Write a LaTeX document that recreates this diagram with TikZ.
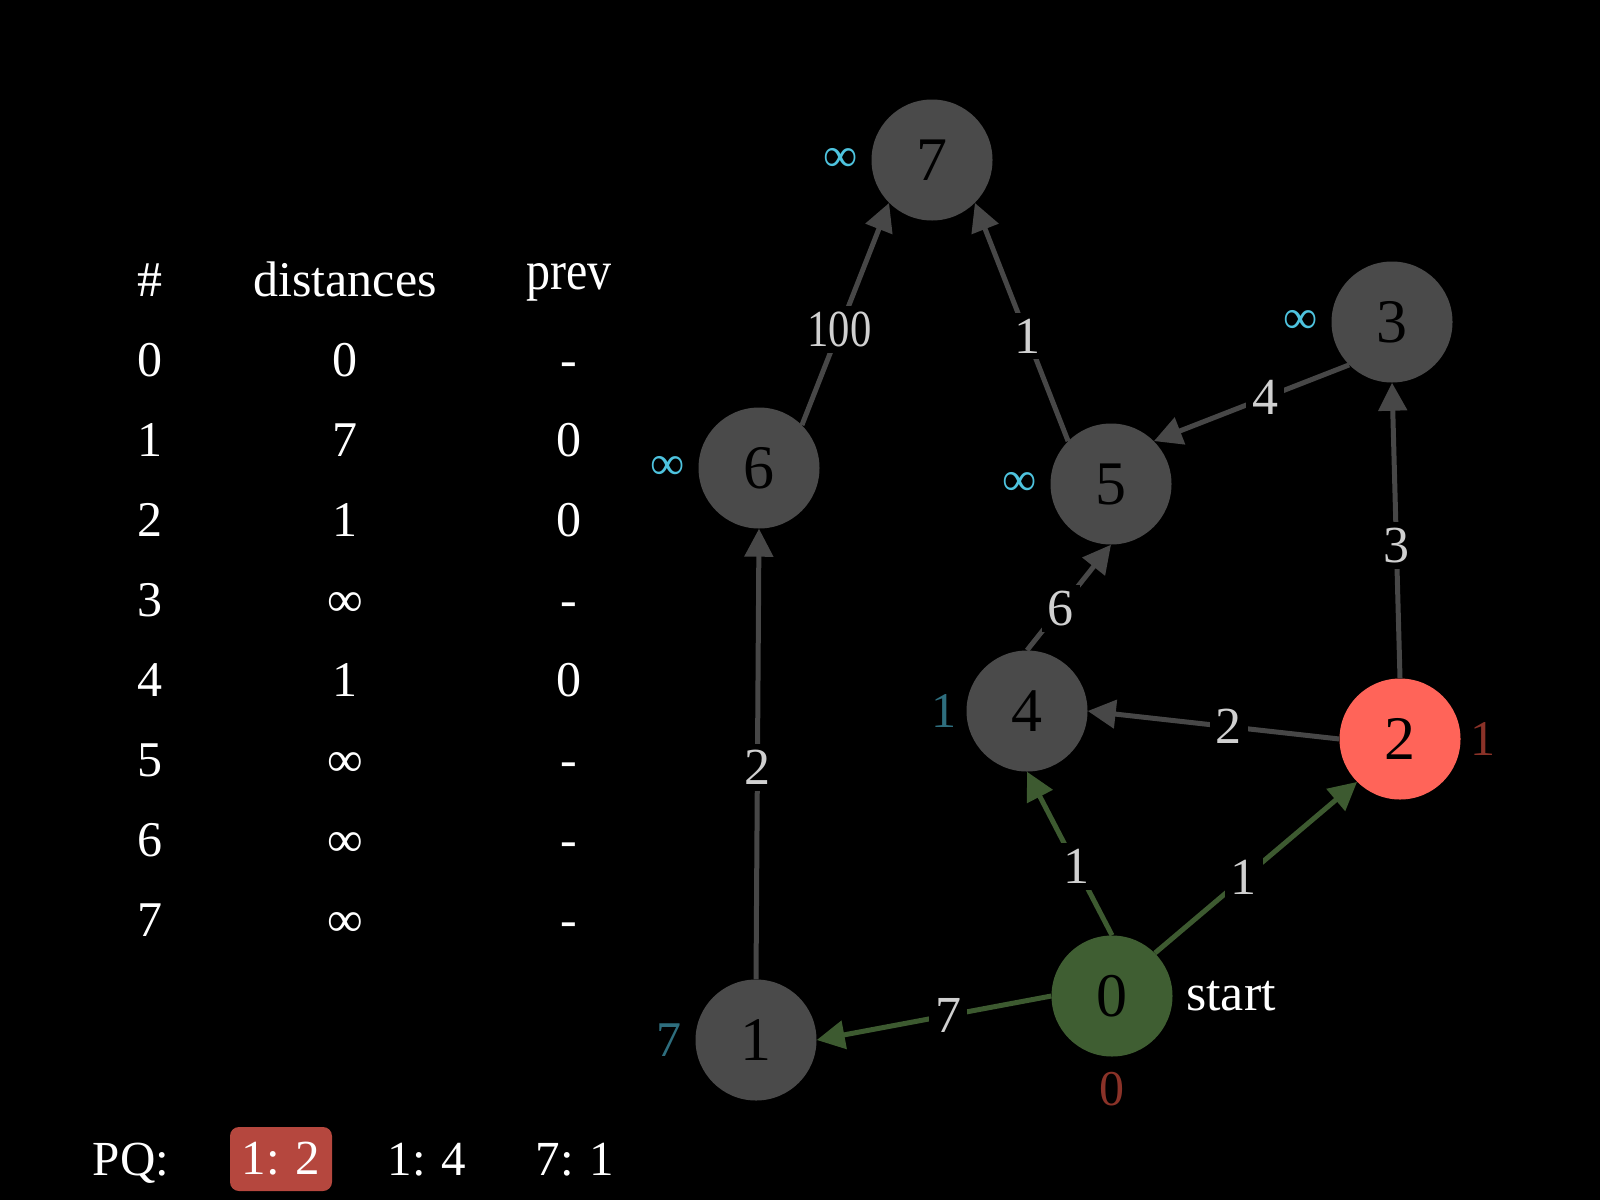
\documentclass[tikz,border=0pt]{standalone}
\usepackage{fontspec}
\setmainfont{Liberation Serif}
\usetikzlibrary{arrows.meta,calc}
\definecolor{nodegray}{HTML}{4A4A4A}
\definecolor{nodered}{HTML}{FF6459}
\definecolor{nodegreen}{HTML}{3F5E32}
\definecolor{edgegray}{HTML}{474747}
\definecolor{edgegreen}{HTML}{3D5A30}
\definecolor{labelgray}{HTML}{D0D0D0}
\definecolor{infcyan}{HTML}{4EC3DE}
\definecolor{distteal}{HTML}{2E6E7E}
\definecolor{distred}{HTML}{8A3228}
\definecolor{pqred}{HTML}{B5473E}
\newcommand{\fsz}[1]{\fontsize{#1}{#1}\selectfont}
\begin{document}
\begin{tikzpicture}[x=1pt,y=-1pt,
  vertex/.style={circle,fill=nodegray,minimum size=121pt,inner sep=0pt,text=black,font=\fsz{62}},
  edge/.style={line width=5pt,draw=edgegray,-{Triangle[length=28pt,width=28pt]}},
  greenedge/.style={edge,draw=edgegreen},
  elabel/.style={fill=black,text=labelgray,font=\fsz{52},inner sep=6pt},
  inflab/.style={text=infcyan,font=\fsz{48},inner sep=0pt},
  teallab/.style={text=distteal,font=\fsz{50},inner sep=0pt},
  redlab/.style={text=distred,font=\fsz{50},inner sep=0pt},
  hdr/.style={text=white,font=\fsz{50},anchor=base,inner sep=0pt},
  tabtxt/.style={text=white,font=\fsz{50},anchor=base,inner sep=0pt},
  pqtxt/.style={text=white,font=\fsz{49},anchor=base,inner sep=0pt},
  pqbox/.style={fill=pqred,rounded corners=9pt,minimum width=102pt,minimum height=64pt,inner sep=0pt,text=white,font=\fsz{49}}
]
\useasboundingbox (0,0) rectangle (1600,1200);
\fill[black] (0,0) rectangle (1600,1200);

% table
\node[hdr] (hnum) at (150,296) {\#};
\node[hdr] (hdist) at (345,296) {distances};
\node[hdr,font=\fsz{48}] (hprev) at (569,289) {\scalebox{1}[1.15]{prev}};
\foreach \i/\d/\p in {0/0/-,1/7/0,2/1/0,3/∞/-,4/1/0,5/∞/-,6/∞/-,7/∞/-}{
  \node[tabtxt] (ra\i) at (150,376+80*\i) {\i};
  \node[tabtxt] (rb\i) at (345,376+80*\i) {\d};
  \node[tabtxt] (rc\i) at (569,376+80*\i) {\p};
}

% priority queue
\node[pqtxt] (pq) at (131,1175) {PQ:};
\node[pqbox] (pqa) at (281,1159) {1: 2};
\node[pqtxt] (pqb) at (427,1175) {1: 4};
\node[pqtxt] (pqc) at (575,1175) {7: 1};

% vertices
\node[vertex] (n7) at (932,160) {7};
\node[vertex] (n6) at (759,468) {6};
\node[vertex] (n5) at (1111,484) {5};
\node[vertex] (n3) at (1392,322) {3};
\node[vertex] (n4) at (1027,711) {4};
\node[vertex,fill=nodered] (n2) at (1400,739) {2};
\node[vertex,fill=nodegreen] (n0) at (1112,996) {0};
\node[vertex] (n1) at (756,1040) {1};

% edges
\draw[greenedge] (n0.west) -- (n1.east);
\draw[greenedge] (n0.north) -- (n4.south);
\draw[greenedge] (n0.north east) -- (n2.south west);
\draw[edge] (n2.west) -- (n4.east);
\draw[edge] (n2.north) -- (n3.south);
\draw[edge] (n3.south west) -- (n5.north east);
\draw[edge] (n4.north) -- (n5.south);
\draw[edge] (n5.north west) -- (n7.south east);
\draw[edge] (n6.north east) -- (n7.south west);
\draw[edge] (n1.north) -- (n6.south);

% edge labels
\node[elabel] (l01) at ($(n0.west)!0.44!(n1.east)$) {7};
\node[elabel] (l04) at ($(n0.north)!0.42!(n4.south)$) {1};
\node[elabel] (l02) at ($(n0.north east)!0.44!(n2.south west)$) {1};
\node[elabel] (l24) at ($(n2.west)!0.44!(n4.east)$) {2};
\node[elabel] (l23) at ($(n2.north)!0.45!(n3.south)$) {3};
\node[elabel] (l35) at ($(n3.south west)!0.43!(n5.north east)$) {4};
\node[elabel] (l45) at ($(n4.north)!0.40!(n5.south)$) {6};
\node[elabel] (l57) at ($(n5.north west)!0.44!(n7.south east)$) {1};
\node[elabel] (l67) at ($(n6.north east)!0.43!(n7.south west)$) {\scalebox{0.82}[1]{100}};
\node[elabel] (l16) at ($(n1.north)!0.47!(n6.south)$) {2};

% distance labels
\node[inflab] (d7) at ($(n7)+(-91,0)$) {∞};
\node[inflab] (d6) at ($(n6)+(-91,0)$) {∞};
\node[inflab] (d5) at ($(n5)+(-91,0)$) {∞};
\node[inflab] (d3) at ($(n3)+(-91,0)$) {∞};
\node[teallab] (d4) at ($(n4)+(-83,0)$) {1};
\node[teallab] (d1) at ($(n1)+(-87,0)$) {7};
\node[redlab] (d2) at ($(n2)+(83,0)$) {1};
\node[redlab] (d0) at ($(n0)+(0,93)$) {0};
\node[text=white,font=\fsz{52},inner sep=0pt] (start) at (1231,996) {start};
\end{tikzpicture}
\end{document}
